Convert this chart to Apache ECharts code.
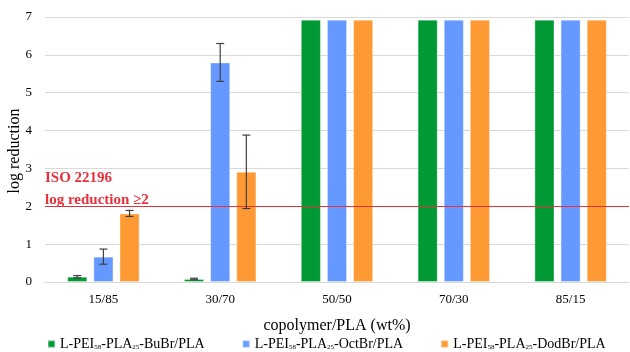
<!DOCTYPE html>
<html><head><meta charset="utf-8">
<script src="https://cdn.jsdelivr.net/npm/echarts@6/dist/echarts.min.js"></script>
<style>html,body{margin:0;padding:0;background:#fff}#c{width:630px;height:352px}</style>
</head><body><div id="c"></div>
<script>
var categories = ['15/85', '30/70', '50/50', '70/30', '85/15'];
var seriesNames = ['L-PEI58-PLA25-BuBr/PLA', 'L-PEI58-PLA25-OctBr/PLA', 'L-PEI58-PLA25-DodBr/PLA'];
var buBr = [0.14, 0.08, 6.93, 6.93, 6.93];
var octBr = [0.67, 5.80, 6.93, 6.93, 6.93];
var dodBr = [1.81, 2.91, 6.93, 6.93, 6.93];
var errBu = [0.03, 0.02, 0, 0, 0];
var errOct = [0.20, 0.50, 0, 0, 0];
var errDod = [0.08, 0.97, 0, 0, 0];
var threshold = 2;
var yTicks = [0, 1, 2, 3, 4, 5, 6, 7];
var yTitle = 'log reduction';
var xTitle = 'copolymer/PLA (wt%)';

var colors = ['#009933', '#6699ff', '#ff9933'];
var FONT = '"Liberation Serif", "Times New Roman", serif';
var values = [buBr, octBr, dodBr];
var errs = [errBu, errOct, errDod];
var CAT_GAP = 0.38, BAR_GAP = 0.3;

var errData = [];
for (var s = 0; s < 3; s++) {
  for (var i = 0; i < categories.length; i++) {
    if (errs[s][i] > 0) errData.push([i, s, values[s][i] - errs[s][i], values[s][i] + errs[s][i]]);
  }
}

function renderErr(params, api) {
  var ci = api.value(0), si = api.value(1);
  var band = api.size([1, 0])[0];
  var barW = band * (1 - CAT_GAP) / (3 + 2 * BAR_GAP);
  var off = (si - 1) * barW * (1 + BAR_GAP);
  var lo = api.coord([ci, api.value(2)]);
  var hi = api.coord([ci, api.value(3)]);
  var x = lo[0] + off;
  var cap = 4;
  var st = {stroke: '#404040', lineWidth: 1.2};
  return {type: 'group', children: [
    {type: 'line', shape: {x1: x, y1: lo[1], x2: x, y2: hi[1]}, style: st},
    {type: 'line', shape: {x1: x - cap, y1: lo[1], x2: x + cap, y2: lo[1]}, style: st},
    {type: 'line', shape: {x1: x - cap, y1: hi[1], x2: x + cap, y2: hi[1]}, style: st}
  ]};
}

function legendFmt(name) {
  var m = name.match(/^L-PEI(\d+)-PLA(\d+)(-.*)$/);
  return '{n|L-PEI}{s|' + m[1] + '}{n|-PLA}{s|' + m[2] + '}{n|' + m[3] + '}';
}

var series = values.map(function (v, s) {
  var o = {
    name: seriesNames[s], type: 'bar', data: v,
    barCategoryGap: '38%', barGap: '30%',
    itemStyle: {color: colors[s], borderColor: 'rgba(255,255,255,0.35)', borderWidth: 1},
    z: 2
  };
  if (s === 2) {
    o.markLine = {
      silent: true, symbol: 'none',
      lineStyle: {color: '#e8303a', width: 1.2, type: 'solid'},
      label: {
        show: true, position: 'insideStartTop', formatter: 'ISO 22196\nlog reduction ≥2',
        color: '#e8303a', fontFamily: FONT, fontWeight: 'bold', fontSize: 15, lineHeight: 22,
        distance: [0, -5], align: 'left'
      },
      data: [{yAxis: threshold}],
      z: 5
    };
  }
  return o;
});
series.push({
  type: 'custom', renderItem: renderErr, data: errData, z: 10,
  encode: {x: 0, y: [2, 3]}, silent: true
});

var chart = echarts.init(document.getElementById('c'));
chart.setOption({
  animation: false,
  color: colors,
  textStyle: {fontFamily: FONT},
  grid: {left: 45, right: 1, top: 17, bottom: 70, containLabel: false, outerBoundsMode: 'none'},
  graphic: [{
    type: 'text', x: 15, y: 151, rotation: Math.PI / 2,
    style: {text: yTitle, font: '16px ' + FONT, fill: '#000', align: 'center', verticalAlign: 'middle'}
  }],
  legend: {
    top: 332, left: 42, itemWidth: 7, itemHeight: 7, itemGap: 37, icon: 'rect',
    data: seriesNames, formatter: legendFmt,
    textStyle: {
      fontFamily: FONT, fontSize: 14, color: '#000',
      rich: {
        n: {fontFamily: FONT, fontSize: 14, color: '#000'},
        s: {fontFamily: FONT, fontSize: 7, color: '#000', verticalAlign: 'bottom', padding: [7, 0, 0, 0]}
      }
    }
  },
  xAxis: {
    type: 'category', data: categories,
    name: xTitle, nameLocation: 'middle', nameGap: 36,
    nameTextStyle: {fontFamily: FONT, fontSize: 16, color: '#000'},
    axisLine: {lineStyle: {color: '#d9d9d9'}},
    axisTick: {show: false},
    axisLabel: {fontFamily: FONT, fontSize: 13, color: '#000', margin: 11}
  },
  yAxis: {
    type: 'value', min: yTicks[0], max: yTicks[yTicks.length - 1], interval: 1,
    axisLine: {show: false}, axisTick: {show: false},
    axisLabel: {fontFamily: FONT, fontSize: 13, color: '#000', margin: 13},
    splitLine: {lineStyle: {color: '#d9d9d9'}}
  },
  series: series
});
</script></body></html>
